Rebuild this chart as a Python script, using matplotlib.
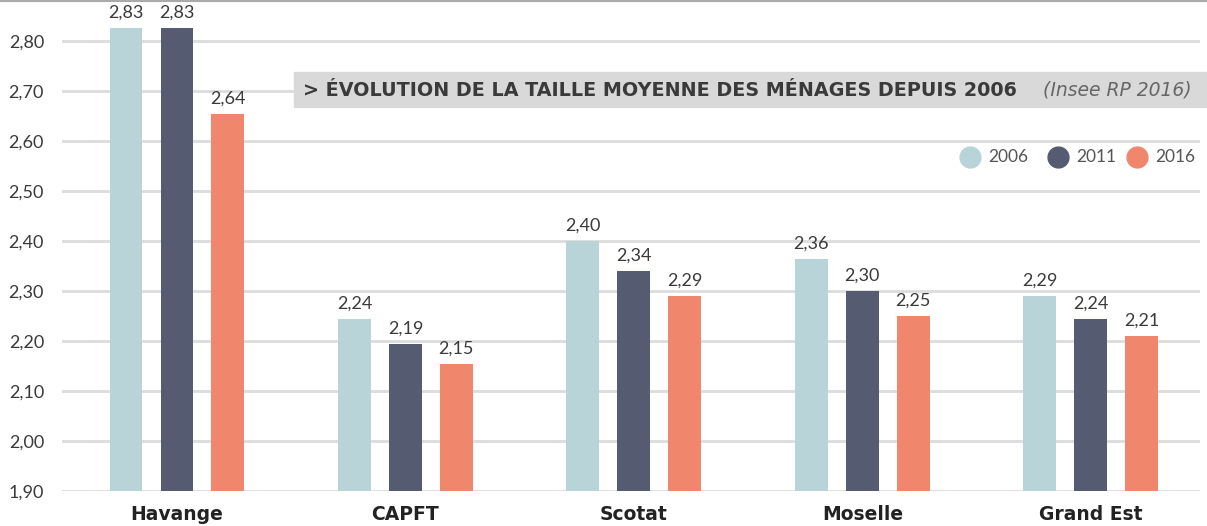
import matplotlib.pyplot as plt
import numpy as np
from matplotlib.patches import Rectangle
from matplotlib.lines import Line2D

# data
categories = ["Havange", "CAPFT", "Scotat", "Moselle", "Grand Est"]
years = ["2006", "2011", "2016"]
values_2006 = [2.826, 2.245, 2.40, 2.365, 2.29]
values_2011 = [2.826, 2.195, 2.34, 2.30, 2.245]
values_2016 = [2.655, 2.155, 2.29, 2.25, 2.21]
labels_2006 = ["2,83", "2,24", "2,40", "2,36", "2,29"]
labels_2011 = ["2,83", "2,19", "2,34", "2,30", "2,24"]
labels_2016 = ["2,64", "2,15", "2,29", "2,25", "2,21"]
yticks = [1.90, 2.00, 2.10, 2.20, 2.30, 2.40, 2.50, 2.60, 2.70, 2.80]

colors = ["#b9d4d8", "#555b70", "#f0876c"]
series = [values_2006, values_2011, values_2016]
series_labels = [labels_2006, labels_2011, labels_2016]

plt.rcParams['font.family'] = ['Lato', 'DejaVu Sans']

fig = plt.figure(figsize=(12.07, 5.26), dpi=100)
ax = fig.add_axes([0.0514, 0.0665, 0.9426, 0.903])

x = np.arange(len(categories))
width = 0.144
offset = 0.223
for i, (vals, labs) in enumerate(zip(series, series_labels)):
    xs = x + (i - 1) * offset
    ax.bar(xs, np.array(vals) - 1.90, width, bottom=1.90, color=colors[i], zorder=3)
    for xi, v, lab in zip(xs, vals, labs):
        ax.text(xi, v + 0.014, lab, ha='center', va='bottom', fontsize=13,
                color='#3a3a3a', zorder=4)

ax.set_xlim(-0.503, 4.477)
ax.set_ylim(1.90, 2.85)
ax.set_yticks(yticks)
ax.set_yticklabels([f"{t:.2f}".replace('.', ',') for t in yticks], fontsize=13, color='#3a3a3a')
ax.tick_params(axis='y', length=0, pad=13)
ax.set_xticks(x)
ax.set_xticklabels(categories, fontsize=13.5, fontweight='bold', color='#222222',
                   family='DejaVu Sans')
ax.tick_params(axis='x', length=0, pad=10)
ax.grid(axis='y', color='#dcdcdc', linewidth=2, zorder=0)
for s in ax.spines.values():
    s.set_visible(False)

# top border line
fig.add_artist(Line2D([0, 1], [0.998, 0.998], color='#aaaaaa', linewidth=1.5,
                      transform=fig.transFigure))

# title band
fig.add_artist(Rectangle((294 / 1207, 1 - 107 / 526), 1 - 294 / 1207, 35 / 526,
                         transform=fig.transFigure, color='#d9d9d9', zorder=5))
fig.text(303 / 1207, 1 - 90 / 526, "> ÉVOLUTION DE LA TAILLE MOYENNE DES MÉNAGES DEPUIS 2006",
         fontsize=13.8, fontweight='bold', color='#3a3a3a', va='center', ha='left',
         family='DejaVu Sans', zorder=6)
fig.text(1192 / 1207, 1 - 90 / 526, "(Insee RP 2016)", fontsize=13.5, style='italic',
         color='#666666', va='center', ha='right', family='DejaVu Sans', zorder=6)

# legend
leg_x = [970, 1058, 1137]
for lx, yr, c in zip(leg_x, years, colors):
    fig.add_artist(Line2D([lx / 1207], [1 - 157 / 526], marker='o', markersize=15,
                          color=c, linestyle='none', transform=fig.transFigure))
    fig.text((lx + 18) / 1207, 1 - 157 / 526, yr, fontsize=12.5, color='#555555',
             va='center', ha='left')

fig.savefig("out.png", dpi=100)
